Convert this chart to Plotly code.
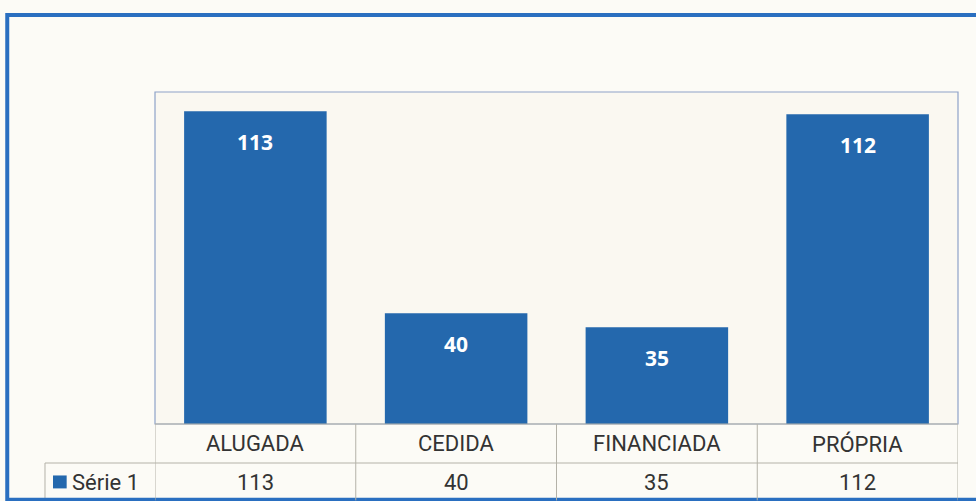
"""
Bar chart with data table: situação do imóvel
"""
import plotly.graph_objects as go

categories = ["ALUGADA", "CEDIDA", "FINANCIADA", "PRÓPRIA"]
values = [113, 40, 35, 112]
series_name = "Série 1"

BAR_COLOR = "#2468ad"
GRID = "#b4b2a8"
FONT = "Roboto, Noto Sans, sans-serif"
TEXT = "#333333"


def build():
    fig = go.Figure()
    fig.add_bar(x=categories, y=values, width=0.71, marker_color=BAR_COLOR,
                marker_line_width=0, hoverinfo="skip")

    # value labels inside the bars, near the top
    for cat, val in zip(categories, values):
        fig.add_annotation(x=cat, y=val, text=f"<b>{val}</b>", showarrow=False,
                           yanchor="middle", yshift=-31,
                           font=dict(family="Noto Sans, sans-serif", size=21, color="white"))

    # data table below the plot
    for cat, val in zip(categories, values):
        fig.add_annotation(x=cat, y=-0.06, yref="paper", text=cat, showarrow=False,
                           xanchor="center", yanchor="middle",
                           font=dict(family=FONT, size=22, color=TEXT))
        fig.add_annotation(x=cat, y=-0.175, yref="paper", text=str(val), showarrow=False,
                           xanchor="center", yanchor="middle",
                           font=dict(family=FONT, size=22, color=TEXT))
    fig.add_annotation(x=-0.106, y=-0.175, xref="paper", yref="paper", text=series_name,
                       showarrow=False, xanchor="left", yanchor="middle",
                       font=dict(family=FONT, size=22, color=TEXT))

    shapes = [
        # legend key
        dict(type="rect", xref="paper", yref="paper", x0=-0.127, x1=-0.11,
             y0=-0.194, y1=-0.155, fillcolor=BAR_COLOR, line_width=0),
        # horizontal table lines
        dict(type="line", xref="paper", yref="paper", x0=0, x1=1, y0=0, y1=0,
             line=dict(color=GRID, width=1)),
        dict(type="line", xref="paper", yref="paper", x0=-0.137, x1=1, y0=-0.1175,
             y1=-0.1175, line=dict(color=GRID, width=1)),
        dict(type="line", xref="paper", yref="paper", x0=-0.137, x1=-0.137,
             y0=-0.1175, y1=-0.24, line=dict(color=GRID, width=1)),
        # plot area border
        dict(type="rect", xref="paper", yref="paper", x0=0, x1=1, y0=0, y1=1,
             line=dict(color="#8ea2c8", width=1.2), layer="below"),
        # outer blue frame
        dict(type="rect", xref="paper", yref="paper", x0=-0.184, x1=1.05,
             y0=-0.228, y1=1.232, line=dict(color="#2a6fc0", width=4)),
    ]
    # vertical table lines at category boundaries
    for i in range(len(categories) + 1):
        shapes.append(dict(type="line", xref="x", yref="paper", x0=i - 0.5, x1=i - 0.5,
                           y0=0, y1=-0.23, line=dict(color=GRID, width=1)))

    fig.update_layout(
        width=976, height=501,
        margin=dict(l=155, r=18, t=92, b=77),
        paper_bgcolor="#fcfbf6", plot_bgcolor="#faf8f1",
        showlegend=False, shapes=shapes,
        xaxis=dict(type="category", range=[-0.5, 3.5], showticklabels=False,
                   showgrid=False, zeroline=False, fixedrange=True),
        yaxis=dict(range=[0, 120], showticklabels=False, showgrid=False,
                   zeroline=False, fixedrange=True),
    )
    return fig


def main():
    fig = build()
    fig.write_html("out.html", config={"displayModeBar": False},
                   post_script="document.body.style.margin='0';")


if __name__ == "__main__":
    main()
